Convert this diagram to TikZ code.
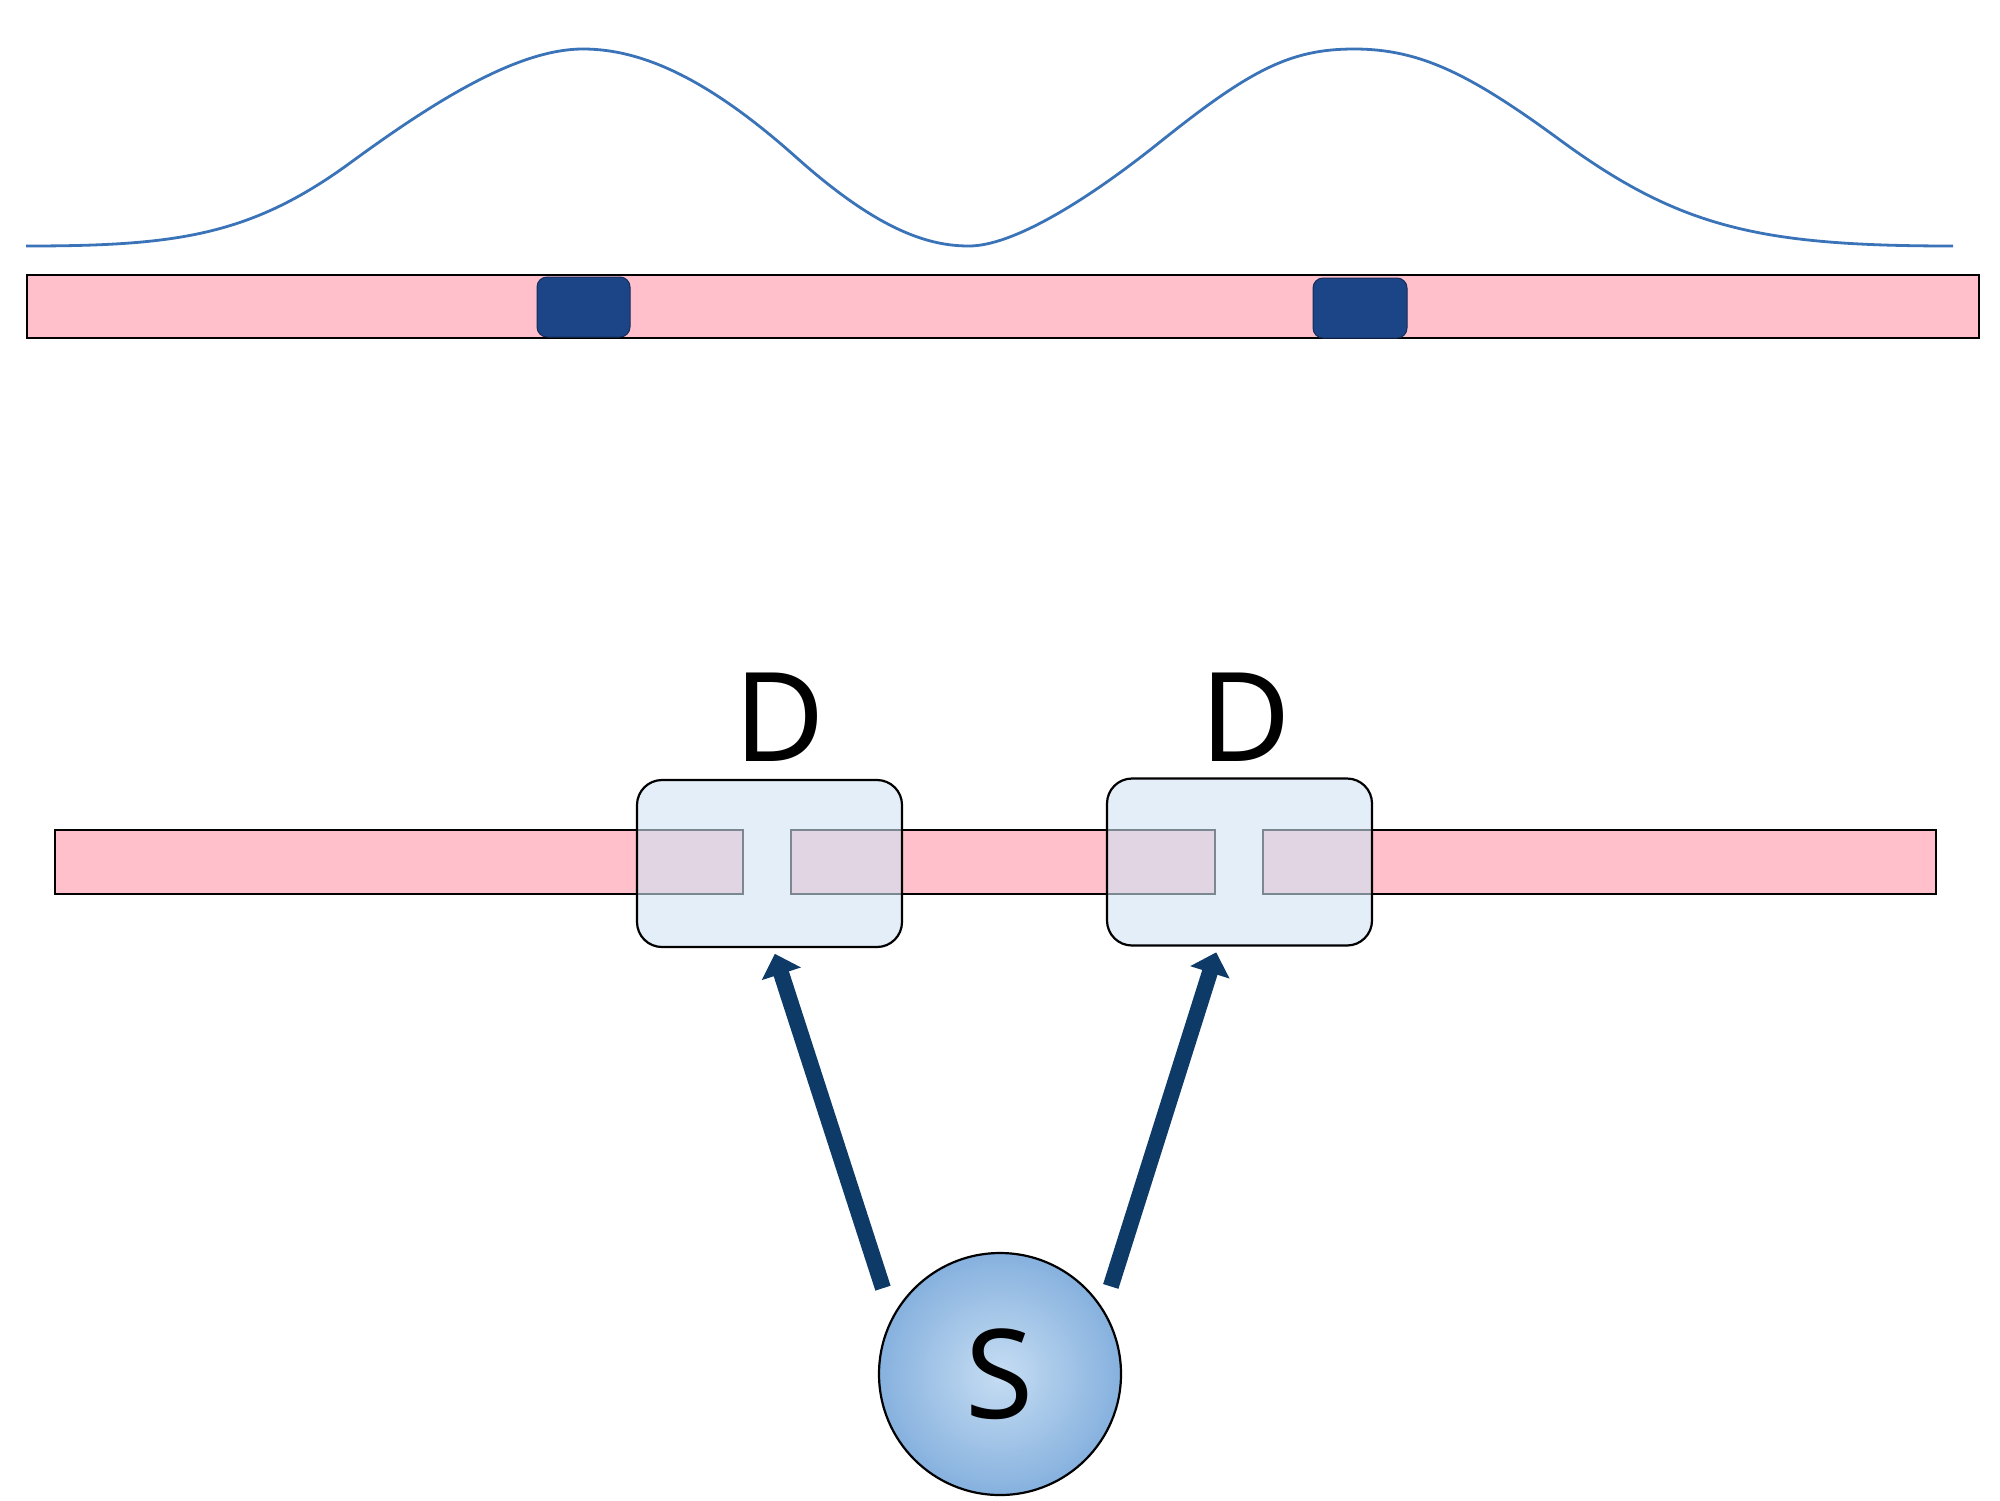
\documentclass[tikz,border=0pt]{standalone}
\usepackage{fontspec}
\setmainfont{Noto Sans}
\usetikzlibrary{positioning,arrows.meta}

\definecolor{barpink}{RGB}{255,192,203}
\definecolor{blockblue}{RGB}{28,69,135}
\definecolor{curveblue}{RGB}{58,115,183}
\definecolor{boxblue}{RGB}{208,227,243}
\definecolor{arrownavy}{RGB}{14,58,104}
\definecolor{srcin}{RGB}{198,221,243}
\definecolor{srcout}{RGB}{134,177,222}

\tikzset{every picture/.style={line width=0.75pt}}
\tikzset{
  strand/.style={draw=black, line width=1.1pt, fill=barpink},
  block/.style={draw={rgb, 255:red, 20; green, 45; blue, 90}, line width=0.5pt, fill=blockblue, rounded corners=5pt},
  dbox/.style={draw=black, line width=1.1pt, fill=boxblue, fill opacity=0.6, rounded corners=12.5pt,
    minimum width=132.5pt, minimum height=83.5pt, inner sep=0pt},
  dlabel/.style={inner sep=0pt, font=\fontsize{62}{70}\selectfont},
  srcnode/.style={circle, draw=black, line width=1.1pt, shading=radial, inner color=srcin, outer color=srcout,
    minimum size=121pt, inner sep=0pt, font=\fontsize{62}{70}\selectfont},
  sarrow/.style={line width=8pt, color=arrownavy, -{Triangle[width=20pt,length=10.5pt]}}
}

\begin{document}
\begin{tikzpicture}[x=0.5pt,y=0.5pt,yscale=-1,xscale=1]
		\useasboundingbox (0,0) rectangle (2000,1500);
		
		%Curve Lines 
		\draw [color=curveblue, line width=1.4pt]  (26,246) .. controls (176,246) and (250,236) .. (350,163) .. controls (440,97) and (520,49) .. (583,49)
			.. controls (645,49) and (712,82) .. (797,158) .. controls (880,232) and (930,246) .. (969,246)
			.. controls (1010,246) and (1080,206) .. (1160,142) .. controls (1250,70) and (1290,49) .. (1354,49)
			.. controls (1420,49) and (1470,74) .. (1560,140) .. controls (1680,228) and (1760,246) .. (1953,246) ;
		%Shape: Rectangle 
		\draw [strand]  (27,275) rectangle (1979,338) ;
		%Shape: Rounded Rectangle 
		\draw [block]  (537,277) rectangle (630,337) ;
		%Shape: Rounded Rectangle 
		\draw [block]  (1313,278) rectangle (1407,338) ;
		
		%Shape: Rectangle 
		\draw [strand]  (55,830) rectangle (743,894) ;
		%Shape: Rectangle 
		\draw [strand]  (791,830) rectangle (1215,894) ;
		%Shape: Rectangle 
		\draw [strand]  (1263,830) rectangle (1936,894) ;
		
		%Shape: Rounded Rectangle 
		\node [dbox] (dbox1) at (769.5,863.5) {};
		\node [dbox] (dbox2) at (1239.5,862) {};
		
		% Text Node
		\node [dlabel, above=8.5pt of dbox1, xshift=5pt] (dlbl1) {D};
		% Text Node
		\node [dlabel, above=7.5pt of dbox2, xshift=3pt] (dlbl2) {D};
		
		%Shape: Circle 
		\node [srcnode] (src) at (1000,1374) {S};
		
		%Straight Lines 
		\draw [sarrow, shorten <=15pt, shorten >=3pt]  (src.152.6) -- ([xshift=1.75pt]dbox1.south) ;
		%Straight Lines 
		\draw [sarrow, shorten <=12pt, shorten >=3pt]  (src.32) -- ([xshift=-10.75pt]dbox2.south) ;
		
	\end{tikzpicture}
\end{document}
